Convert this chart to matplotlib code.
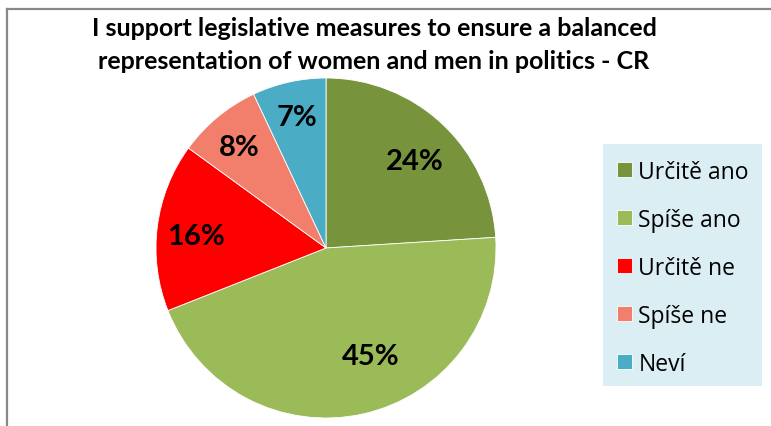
import numpy as np
import matplotlib.pyplot as plt
from matplotlib.patches import Rectangle

# data
labels = ["Určitě ano", "Spíše ano", "Určitě ne", "Spíše ne", "Neví"]
values = [24, 45, 16, 8, 7]
colors = ["#77933C", "#9BBB59", "#FF0000", "#F27E6C", "#4BACC6"]
title = "I support legislative measures to ensure a balanced\nrepresentation of women and men in politics - CR"

plt.rcParams['font.family'] = ['Lato', 'DejaVu Sans']

fig = plt.figure(figsize=(7.71, 4.27), dpi=100)

# outer frame (top and left edges visible)
fig.add_artist(plt.Line2D([6.5/771, 6.5/771], [0, 1 - 9.5/427], color="#888888", lw=1.6))
fig.add_artist(plt.Line2D([6.5/771, 1], [1 - 9.5/427, 1 - 9.5/427], color="#888888", lw=1.6))

fig.text(374/771, 1 - 45/427, title, ha="center", va="center",
         fontsize=18, fontweight="bold", linespacing=1.48)

ax = fig.add_axes([156/771, 8/427, 340/771, 340/427])
wedges, texts, autotexts = ax.pie(values, colors=colors, startangle=90, counterclock=False,
                                  autopct="%d%%", pctdistance=0.76,
                                  wedgeprops=dict(linewidth=0.6, edgecolor="white"),
                                  textprops=dict(fontsize=21, fontweight="bold", color="black"))

# excel-like "best fit" label placement
lab_r = [0.73, 0.69, 0.77, 0.78, 0.79]
lab_shift = [-2.5, 10, 2, 1, 0]
for w, t, r, s in zip(wedges, autotexts, lab_r, lab_shift):
    a = np.deg2rad((w.theta1 + w.theta2) / 2 + s)
    t.set_position((r * np.cos(a), r * np.sin(a)))

ax.set_xlim(-1, 1)
ax.set_ylim(-1, 1)
ax.set_aspect("equal")

# legend
fig.add_artist(Rectangle((603/771, 1 - 387/427), 159/771, 242/427,
                         transform=fig.transFigure, facecolor="#DBEEF4", edgecolor="none", zorder=0))
leg = fig.legend(wedges, labels, loc="upper left", bbox_to_anchor=(596/771, 1 - 140/427),
                 frameon=False, prop=dict(family="Open Sans", size=16.5),
                 handlelength=0.65, handleheight=0.65,
                 handletextpad=0.3, labelspacing=1.05)

plt.savefig("out.png", dpi=100)
